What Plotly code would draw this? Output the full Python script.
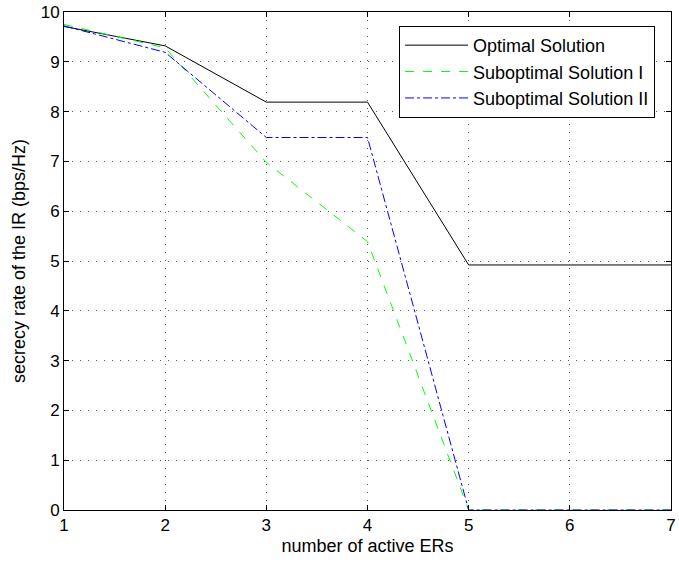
import plotly.graph_objects as go

# number of active ERs
n_active = [1, 2, 3, 4, 5, 6, 7]

# secrecy rate of the IR (bps/Hz) for each scheme
optimal = [9.71, 9.32, 8.19, 8.19, 4.92, 4.92, 4.92]
suboptimal_1 = [9.75, 9.28, 6.98, 5.39, 0.0, 0.0, 0.0]
suboptimal_2 = [9.72, 9.19, 7.48, 7.48, 0.0, 0.0, 0.0]

x_ticks = [1, 2, 3, 4, 5, 6, 7]
y_ticks = [0, 1, 2, 3, 4, 5, 6, 7, 8, 9, 10]

FONT = "Liberation Sans, Arial, Helvetica, sans-serif"

fig = go.Figure()
fig.add_trace(go.Scatter(x=n_active, y=optimal, mode="lines", name="Optimal Solution",
                         line=dict(color="black", width=1)))
fig.add_trace(go.Scatter(x=n_active, y=suboptimal_1, mode="lines", name="Suboptimal Solution I",
                         line=dict(color="#00ff00", width=1, dash="dash")))
fig.add_trace(go.Scatter(x=n_active, y=suboptimal_2, mode="lines", name="Suboptimal Solution II",
                         line=dict(color="#0000ff", width=1, dash="dashdot")))

axis_common = dict(
    showline=True, linecolor="black", linewidth=1, mirror="ticks",
    ticks="inside", ticklen=5, tickcolor="black",
    showgrid=True, gridcolor="rgba(0,0,0,0.65)", griddash="1px,7px", gridwidth=1,
    zeroline=False,
    ticklabeloverflow="allow",
    tickfont=dict(family=FONT, size=17, color="black"),
)

fig.update_xaxes(range=[1, 7], tickvals=x_ticks,
                 title=dict(text="number of active ERs", standoff=4,
                            font=dict(family=FONT, size=18, color="black")),
                 **axis_common)
fig.update_yaxes(range=[0, 10], tickvals=y_ticks,
                 title=dict(text="secrecy rate of the IR (bps/Hz)", standoff=10,
                            font=dict(family=FONT, size=18, color="black")),
                 **axis_common)

fig.update_layout(
    width=679, height=565,
    margin=dict(l=64, r=3, t=8, b=55),
    plot_bgcolor="white", paper_bgcolor="white",
    legend=dict(x=0.552, y=0.972, xanchor="left", yanchor="top",
                bordercolor="black", borderwidth=1, bgcolor="white",
                itemwidth=63,
                font=dict(family=FONT, size=18, color="black"),
                tracegroupgap=0),
    showlegend=True,
)

fig.write_html("out.html")
